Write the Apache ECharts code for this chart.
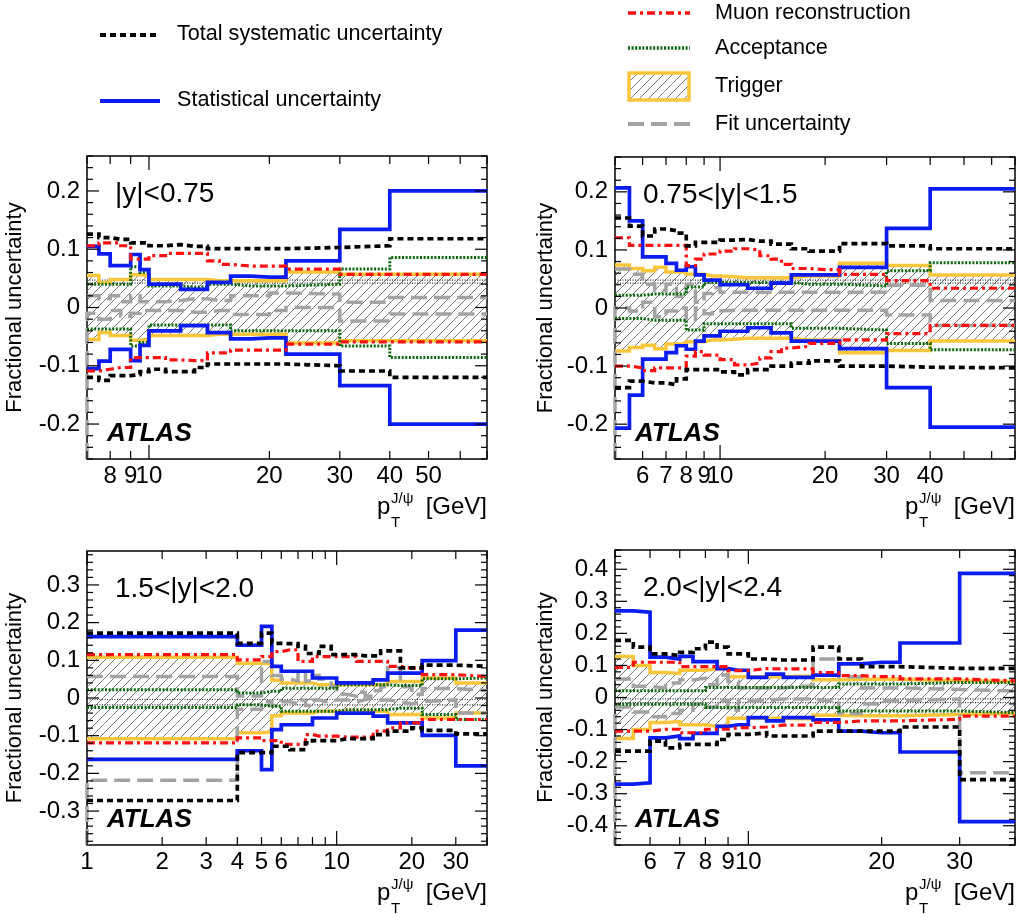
<!DOCTYPE html>
<html><head><meta charset="utf-8">
<script src="https://cdn.jsdelivr.net/npm/echarts@6/dist/echarts.min.js"></script>
<style>html,body{margin:0;padding:0;background:#fff}#c{width:1026px;height:914px}</style>
</head><body><div id="c"></div>
<script>
// ---------------- DATA ----------------
// Panel 1: |y|<0.75
const p1Label = '|y|<0.75';
const p1Edges = [7, 7.5, 8, 8.5, 9, 9.5, 10, 11, 12, 13, 14, 15, 16, 18, 20, 22, 30, 40, 70];
const p1Stat = [0.105, 0.092, 0.072, 0.072, 0.091, 0.065, 0.040, 0.040, 0.031, 0.031, 0.043, 0.043, 0.054, 0.052, 0.052, 0.080, 0.134, 0.200];
const p1SystUp = [0.126, 0.120, 0.117, 0.117, 0.111, 0.111, 0.106, 0.108, 0.105, 0.105, 0.101, 0.101, 0.101, 0.101, 0.101, 0.103, 0.106, 0.118];
const p1SystDn = [-0.120, -0.125, -0.117, -0.117, -0.115, -0.110, -0.106, -0.110, -0.110, -0.103, -0.097, -0.097, -0.097, -0.097, -0.097, -0.100, -0.109, -0.120];
const p1MuonUp = [0.106, 0.111, 0.111, 0.106, 0.083, 0.083, 0.089, 0.093, 0.093, 0.093, 0.080, 0.074, 0.071, 0.071, 0.071, 0.066, 0.057, 0.057];
const p1MuonDn = [-0.109, -0.106, -0.103, -0.103, -0.086, -0.086, -0.086, -0.090, -0.091, -0.091, -0.078, -0.078, -0.073, -0.073, -0.073, -0.063, -0.059, -0.059];
const p1Trig = [0.055, 0.043, 0.048, 0.048, 0.056, 0.054, 0.048, 0.048, 0.048, 0.048, 0.046, 0.046, 0.046, 0.046, 0.046, 0.061, 0.057, 0.057];
const p1AccUp = [0.040, 0.040, 0.040, 0.040, 0.070, 0.060, 0.037, 0.037, 0.035, 0.035, 0.040, 0.040, 0.037, 0.037, 0.037, 0.040, 0.066, 0.086];
const p1AccDn = [-0.037, -0.037, -0.037, -0.037, -0.066, -0.060, -0.030, -0.030, -0.030, -0.030, -0.030, -0.030, -0.040, -0.040, -0.040, -0.040, -0.066, -0.086];
const p1FitUp = [0.020, 0.015, 0.020, 0.010, 0.020, 0.010, 0.010, 0.012, 0.015, 0.015, 0.012, 0.012, 0.020, 0.020, 0.025, 0.023, 0.009, 0.017];
const p1FitDn = [-0.010, -0.020, -0.005, -0.015, -0.010, -0.005, -0.005, -0.005, -0.008, -0.008, -0.005, -0.005, -0.012, -0.012, -0.005, 0.000, -0.023, -0.011];
const p1Fine = [0.047, 0.042];
const p1XLabels = [8, 9, 10, 20, 30, 40, 50];
const p1XTicks = [7, 8, 9, 10, 20, 30, 40, 50, 60, 70];
const p1YLabels = [-0.2, -0.1, 0, 0.1, 0.2];

// Panel 2: 0.75<|y|<1.5
const p2Label = '0.75<|y|<1.5';
const p2Edges = [5, 5.5, 6, 6.5, 7, 7.5, 8, 8.5, 9, 9.5, 10, 11, 12, 13, 14, 15, 16, 18, 20, 22, 30, 40, 70];
const p2Stat = [0.207, 0.150, 0.088, 0.088, 0.077, 0.065, 0.071, 0.057, 0.048, 0.048, 0.040, 0.040, 0.034, 0.034, 0.043, 0.043, 0.057, 0.057, 0.057, 0.070, 0.137, 0.205];
const p2SystUp = [0.155, 0.141, 0.124, 0.136, 0.133, 0.129, 0.107, 0.113, 0.113, 0.113, 0.117, 0.118, 0.115, 0.115, 0.110, 0.110, 0.102, 0.098, 0.098, 0.111, 0.107, 0.102];
const p2SystDn = [-0.137, -0.126, -0.129, -0.129, -0.132, -0.122, -0.106, -0.106, -0.106, -0.106, -0.110, -0.115, -0.106, -0.106, -0.100, -0.100, -0.095, -0.091, -0.091, -0.100, -0.102, -0.103];
const p2MuonUp = [0.121, 0.108, 0.108, 0.108, 0.108, 0.108, 0.073, 0.084, 0.093, 0.093, 0.098, 0.102, 0.100, 0.090, 0.084, 0.075, 0.068, 0.066, 0.066, 0.058, 0.047, 0.034];
const p2MuonDn = [-0.100, -0.103, -0.108, -0.103, -0.103, -0.103, -0.083, -0.075, -0.081, -0.081, -0.089, -0.098, -0.095, -0.086, -0.075, -0.069, -0.066, -0.061, -0.061, -0.055, -0.044, -0.030];
const p2Trig = [0.074, 0.068, 0.064, 0.070, 0.062, 0.062, 0.058, 0.058, 0.055, 0.055, 0.054, 0.052, 0.052, 0.052, 0.052, 0.052, 0.055, 0.055, 0.055, 0.077, 0.073, 0.057];
const p2AccUp = [0.022, 0.022, 0.024, 0.024, 0.024, 0.024, 0.036, 0.036, 0.044, 0.044, 0.044, 0.044, 0.044, 0.044, 0.044, 0.044, 0.041, 0.041, 0.041, 0.038, 0.064, 0.078];
const p2AccDn = [-0.018, -0.018, -0.021, -0.021, -0.021, -0.021, -0.038, -0.038, -0.027, -0.027, -0.027, -0.027, -0.027, -0.027, -0.027, -0.027, -0.035, -0.035, -0.035, -0.038, -0.061, -0.072];
const p2FitUp = [0.067, 0.058, 0.041, 0.030, 0.041, 0.020, 0.041, 0.010, 0.025, 0.035, 0.027, 0.027, 0.027, 0.027, 0.027, 0.027, 0.027, 0.027, 0.027, 0.027, 0.039, 0.013];
const p2FitDn = [0.000, -0.005, 0.010, -0.015, -0.005, 0.000, -0.020, 0.000, -0.010, -0.005, -0.004, -0.004, -0.004, -0.004, -0.004, -0.004, -0.004, -0.004, -0.004, -0.004, -0.012, -0.030];
const p2Fine = [0.048, 0.043];
const p2XLabels = [6, 7, 8, 9, 10, 20, 30, 40];
const p2XTicks = [5, 6, 7, 8, 9, 10, 20, 30, 40, 50, 60, 70];
const p2YLabels = [-0.2, -0.1, 0, 0.1, 0.2];

// Panel 3: 1.5<|y|<2.0
const p3Label = '1.5<|y|<2.0';
const p3Edges = [1, 4, 5, 5.5, 6, 6.5, 7, 7.5, 8, 8.5, 9, 9.5, 10, 11, 12, 13, 14, 15, 16, 18, 20, 22, 30, 40];
const p3Stat = [0.163, 0.140, 0.190, 0.084, 0.071, 0.071, 0.071, 0.071, 0.053, 0.053, 0.053, 0.053, 0.040, 0.040, 0.040, 0.040, 0.048, 0.048, 0.066, 0.066, 0.066, 0.099, 0.180];
const p3SystUp = [0.172, 0.145, 0.172, 0.145, 0.144, 0.144, 0.137, 0.118, 0.118, 0.137, 0.137, 0.115, 0.115, 0.115, 0.112, 0.112, 0.112, 0.125, 0.125, 0.080, 0.080, 0.087, 0.084];
const p3SystDn = [-0.272, -0.145, -0.145, -0.128, -0.128, -0.137, -0.137, -0.119, -0.113, -0.113, -0.113, -0.113, -0.108, -0.108, -0.108, -0.108, -0.097, -0.097, -0.088, -0.088, -0.079, -0.086, -0.095];
const p3MuonUp = [0.115, 0.101, 0.110, 0.123, 0.128, 0.128, 0.097, 0.097, 0.110, 0.110, 0.110, 0.110, 0.110, 0.110, 0.097, 0.097, 0.097, 0.097, 0.084, 0.079, 0.079, 0.062, 0.057];
const p3MuonDn = [-0.119, -0.106, -0.113, -0.113, -0.123, -0.123, -0.123, -0.097, -0.101, -0.101, -0.101, -0.101, -0.104, -0.104, -0.104, -0.104, -0.088, -0.088, -0.079, -0.066, -0.066, -0.057, -0.057];
const p3Trig = [0.108, 0.092, 0.090, 0.047, 0.040, 0.040, 0.040, 0.040, 0.035, 0.035, 0.035, 0.035, 0.035, 0.035, 0.035, 0.035, 0.035, 0.035, 0.044, 0.044, 0.044, 0.053, 0.040];
const p3AccUp = [0.022, 0.013, 0.018, 0.018, 0.026, 0.026, 0.026, 0.026, 0.026, 0.026, 0.026, 0.026, 0.035, 0.035, 0.035, 0.035, 0.035, 0.035, 0.033, 0.033, 0.033, 0.051, 0.053];
const p3AccDn = [-0.025, -0.018, -0.022, -0.022, -0.035, -0.035, -0.035, -0.035, -0.035, -0.035, -0.035, -0.035, -0.031, -0.031, -0.031, -0.031, -0.031, -0.031, -0.027, -0.027, -0.027, -0.044, -0.057];
const p3FitUp = [0.057, 0.005, 0.097, 0.060, 0.050, 0.045, 0.070, 0.045, 0.060, 0.050, 0.045, 0.030, 0.010, 0.005, 0.015, 0.005, 0.020, 0.030, 0.080, 0.030, 0.010, 0.025, 0.020];
const p3FitDn = [-0.218, -0.030, -0.010, -0.020, -0.010, -0.015, -0.005, -0.020, -0.005, -0.010, -0.010, -0.005, -0.005, -0.010, -0.005, 0.000, -0.005, -0.005, -0.010, -0.015, -0.010, -0.005, -0.040];
const p3Fine = [-0.004, -0.018];
const p3XLabels = [1, 2, 3, 4, 5, 6, 10, 20, 30];
const p3XTicks = [1, 2, 3, 4, 5, 6, 7, 8, 9, 10, 20, 30, 40];
const p3YLabels = [-0.3, -0.2, -0.1, 0, 0.1, 0.2, 0.3];

// Panel 4: 2.0<|y|<2.4
const p4Label = '2.0<|y|<2.4';
const p4Edges = [5, 5.5, 6, 6.5, 7, 7.5, 8, 8.5, 9, 9.5, 10, 11, 12, 13, 14, 15, 16, 18, 20, 22, 30, 40];
const p4Stat = [0.270, 0.266, 0.126, 0.120, 0.128, 0.112, 0.112, 0.090, 0.085, 0.085, 0.063, 0.073, 0.063, 0.063, 0.070, 0.070, 0.105, 0.110, 0.110, 0.170, 0.387];
const p4SystUp = [0.178, 0.157, 0.136, 0.131, 0.141, 0.152, 0.173, 0.157, 0.136, 0.136, 0.120, 0.117, 0.117, 0.117, 0.157, 0.157, 0.120, 0.096, 0.096, 0.091, 0.091];
const p4SystDn = [-0.167, -0.167, -0.136, -0.157, -0.146, -0.146, -0.146, -0.131, -0.115, -0.115, -0.110, -0.120, -0.120, -0.120, -0.105, -0.105, -0.105, -0.105, -0.105, -0.092, -0.256];
const p4MuonUp = [0.094, 0.110, 0.110, 0.110, 0.096, 0.096, 0.096, 0.096, 0.084, 0.084, 0.090, 0.089, 0.089, 0.089, 0.078, 0.078, 0.068, 0.065, 0.065, 0.058, 0.052];
const p4MuonDn = [-0.105, -0.105, -0.099, -0.099, -0.110, -0.110, -0.099, -0.099, -0.094, -0.094, -0.092, -0.086, -0.086, -0.086, -0.078, -0.078, -0.073, -0.073, -0.073, -0.068, -0.058];
const p4Trig = [0.128, 0.100, 0.078, 0.075, 0.085, 0.085, 0.090, 0.090, 0.065, 0.065, 0.065, 0.065, 0.066, 0.066, 0.055, 0.055, 0.057, 0.057, 0.057, 0.053, 0.050];
const p4AccUp = [0.021, 0.021, 0.021, 0.021, 0.021, 0.021, 0.031, 0.031, 0.031, 0.031, 0.031, 0.031, 0.031, 0.031, 0.031, 0.031, 0.042, 0.042, 0.042, 0.047, 0.047];
const p4AccDn = [-0.021, -0.021, -0.021, -0.021, -0.021, -0.021, -0.031, -0.031, -0.031, -0.031, -0.031, -0.031, -0.031, -0.031, -0.031, -0.031, -0.042, -0.042, -0.042, -0.042, -0.047];
const p4FitUp = [0.058, 0.035, 0.030, 0.045, 0.055, 0.060, 0.040, 0.070, 0.050, 0.030, 0.030, 0.030, 0.035, 0.035, 0.120, 0.120, 0.065, 0.030, 0.030, 0.025, 0.020];
const p4FitDn = [-0.030, -0.045, -0.060, -0.050, -0.040, -0.020, -0.030, -0.010, -0.040, -0.010, -0.010, -0.005, -0.005, -0.005, -0.010, -0.010, -0.050, -0.020, -0.010, -0.005, -0.235];
const p4Fine = [-0.004, -0.016];
const p4XLabels = [6, 7, 8, 9, 10, 20, 30];
const p4XTicks = [5, 6, 7, 8, 9, 10, 20, 30, 40];
const p4YLabels = [-0.4, -0.3, -0.2, -0.1, 0, 0.1, 0.2, 0.3, 0.4];

const legendNames = ['Total systematic uncertainty', 'Statistical uncertainty', 'Muon reconstruction', 'Acceptance', 'Trigger', 'Fit uncertainty'];
const yTitle = 'Fractional uncertainty';

// ---------------- STYLE / LAYOUT ----------------
const FONT = '"Liberation Sans", Arial, Helvetica, sans-serif';
const C_SYST = '#000000', C_STAT = '#0b1cf0', C_MUON = '#ff1010', C_ACC = '#0a6a0a', C_TRIG = '#fbc63b', C_FIT = '#a3a3a3', C_FINE = '#333333';
const D_SYST = [6, 4], D_MUON = [8, 4, 3, 4], D_ACC = [2, 1.6], D_FIT = [16, 7], D_FINE = [1, 1.5];

const hatch = document.createElement('canvas');
hatch.width = 9; hatch.height = 9;
(function () {
  const g = hatch.getContext('2d');
  g.strokeStyle = '#555'; g.lineWidth = 0.8;
  g.beginPath();
  g.moveTo(0, 9); g.lineTo(9, 0);
  g.moveTo(-2, 2); g.lineTo(2, -2);
  g.moveTo(7, 11); g.lineTo(11, 7);
  g.stroke();
})();
const hatchFill = { image: hatch, repeat: 'repeat' };

const panels = [
  { label: p1Label, edges: p1Edges, stat: p1Stat, systUp: p1SystUp, systDn: p1SystDn, muonUp: p1MuonUp, muonDn: p1MuonDn, trig: p1Trig, accUp: p1AccUp, accDn: p1AccDn, fitUp: p1FitUp, fitDn: p1FitDn, fine: p1Fine, xLabels: p1XLabels, xTicks: p1XTicks, yLabels: p1YLabels,
    grid: { left: 87, top: 156, width: 400, height: 303 }, xMin: 7, xMax: 70, yMax: 0.26, titleX: 15 },
  { label: p2Label, edges: p2Edges, stat: p2Stat, systUp: p2SystUp, systDn: p2SystDn, muonUp: p2MuonUp, muonDn: p2MuonDn, trig: p2Trig, accUp: p2AccUp, accDn: p2AccDn, fitUp: p2FitUp, fitDn: p2FitDn, fine: p2Fine, xLabels: p2XLabels, xTicks: p2XTicks, yLabels: p2YLabels,
    grid: { left: 615, top: 157, width: 400, height: 302 }, xMin: 5, xMax: 70, yMax: 0.26, titleX: 546 },
  { label: p3Label, edges: p3Edges, stat: p3Stat, systUp: p3SystUp, systDn: p3SystDn, muonUp: p3MuonUp, muonDn: p3MuonDn, trig: p3Trig, accUp: p3AccUp, accDn: p3AccDn, fitUp: p3FitUp, fitDn: p3FitDn, fine: p3Fine, xLabels: p3XLabels, xTicks: p3XTicks, yLabels: p3YLabels,
    grid: { left: 87, top: 551, width: 400, height: 294 }, xMin: 1, xMax: 40, yMax: 0.39, titleX: 15 },
  { label: p4Label, edges: p4Edges, stat: p4Stat, systUp: p4SystUp, systDn: p4SystDn, muonUp: p4MuonUp, muonDn: p4MuonDn, trig: p4Trig, accUp: p4AccUp, accDn: p4AccDn, fitUp: p4FitUp, fitDn: p4FitDn, fine: p4Fine, xLabels: p4XLabels, xTicks: p4XTicks, yLabels: p4YLabels,
    grid: { left: 615, top: 550, width: 400, height: 295 }, xMin: 5, xMax: 40, yMax: 0.46, titleX: 546 }
];

function stepData(edges, vals) {
  const d = [];
  for (let i = 0; i < vals.length; i++) d.push([edges[i], vals[i]]);
  d.push([edges[edges.length - 1], vals[vals.length - 1]]);
  return d;
}
function neg(a) { return a.map(v => -v); }

function lineS(i, data, color, width, type, z) {
  return { type: 'line', xAxisIndex: i, yAxisIndex: i, data: data, step: 'end', symbol: 'none', showSymbol: false,
    silent: true, animation: false, clip: true, z: z,
    lineStyle: { color: color, width: width, type: type, cap: 'butt', join: 'miter' } };
}

const grids = [], xAxes = [], yAxes = [], series = [], graphics = [];

panels.forEach((P, i) => {
  grids.push(Object.assign({ show: true, borderColor: '#000', borderWidth: 1.5, backgroundColor: 'rgba(0,0,0,0)' }, P.grid));
  xAxes.push({ type: 'log', logBase: 10, gridIndex: i, min: P.xMin, max: P.xMax,
    axisLine: { show: false }, axisTick: { show: false }, splitLine: { show: false }, minorTick: { show: false },
    axisLabel: { customValues: P.xLabels, margin: 5, fontSize: 24, fontFamily: FONT, color: '#000',
      formatter: v => String(Math.round(v)) } });
  yAxes.push({ type: 'value', gridIndex: i, min: -P.yMax, max: P.yMax,
    axisLine: { show: false }, axisTick: { show: false }, splitLine: { show: false },
    axisLabel: { customValues: P.yLabels, margin: 7, fontSize: 24, fontFamily: FONT, color: '#000',
      formatter: v => Math.abs(v) < 1e-9 ? '0' : Number(v).toFixed(1) } });

  // Trigger hatched band
  const bins = P.trig.map((t, k) => [P.edges[k], P.edges[k + 1], t]);
  series.push({ type: 'custom', xAxisIndex: i, yAxisIndex: i, silent: true, animation: false, z: 1, clip: true,
    data: bins, encode: { x: [0, 1], y: 2 },
    renderItem: (params, api) => {
      const a = api.coord([api.value(0), api.value(2)]);
      const b = api.coord([api.value(1), -api.value(2)]);
      return { type: 'rect', shape: { x: a[0], y: a[1], width: b[0] - a[0], height: b[1] - a[1] },
        style: { fill: hatchFill, stroke: null } };
    } });

  // fine dotted band lines
  P.fine.forEach(v => series.push(lineS(i, [[P.xMin, v], [P.xMax, v]], C_FINE, 1.2, D_FINE, 2)));

  // fit lower curve drops down the left edge as in the original histogram drawing
  const fitDnData = [[P.edges[0], -P.yMax]].concat(stepData(P.edges, P.fitDn));

  series.push(lineS(i, stepData(P.edges, P.trig), C_TRIG, 3.5, 'solid', 3));
  series.push(lineS(i, stepData(P.edges, neg(P.trig)), C_TRIG, 3.5, 'solid', 3));
  series.push(lineS(i, stepData(P.edges, P.fitUp), C_FIT, 3.5, D_FIT, 4));
  series.push(lineS(i, fitDnData, C_FIT, 3.5, D_FIT, 4));
  series.push(lineS(i, stepData(P.edges, P.accUp), C_ACC, 3, D_ACC, 5));
  series.push(lineS(i, stepData(P.edges, P.accDn), C_ACC, 3, D_ACC, 5));
  series.push(lineS(i, stepData(P.edges, P.stat), C_STAT, 3.7, 'solid', 6));
  series.push(lineS(i, stepData(P.edges, neg(P.stat)), C_STAT, 3.7, 'solid', 6));
  series.push(lineS(i, stepData(P.edges, P.muonUp), C_MUON, 3.2, D_MUON, 7));
  series.push(lineS(i, stepData(P.edges, P.muonDn), C_MUON, 3.2, D_MUON, 7));
  series.push(lineS(i, stepData(P.edges, P.systUp), C_SYST, 3.7, D_SYST, 8));
  series.push(lineS(i, stepData(P.edges, P.systDn), C_SYST, 3.7, D_SYST, 8));

  // axis ticks (ROOT style, inside, all four sides)
  series.push({ type: 'custom', xAxisIndex: i, yAxisIndex: i, silent: true, animation: false, z: 20, clip: false,
    data: [[P.xMin, 0]], encode: { x: 0, y: 1 },
    renderItem: (params, api) => {
      const tl = api.coord([P.xMin, P.yMax]);
      const br = api.coord([P.xMax, -P.yMax]);
      const ch = [];
      const L = (x1, y1, x2, y2) => ch.push({ type: 'line', shape: { x1, y1, x2, y2 }, style: { stroke: '#000', lineWidth: 1.2 } });
      P.xTicks.forEach(t => {
        const x = api.coord([t, 0])[0];
        const lg = Math.log10(t);
        const len = Math.abs(lg - Math.round(lg)) < 1e-9 ? 14 : 8;
        L(x, br[1], x, br[1] - len);
        L(x, tl[1], x, tl[1] + len);
      });
      const kMin = Math.ceil(-P.yMax / 0.02 - 1e-9), kMax = Math.floor(P.yMax / 0.02 + 1e-9);
      for (let k = kMin; k <= kMax; k++) {
        const y = api.coord([P.xMin, k * 0.02])[1];
        const len = (k % 5 === 0) ? 12 : 6;
        L(tl[0], y, tl[0] + len, y);
        L(br[0], y, br[0] - len, y);
      }
      return { type: 'group', children: ch };
    } });

  // texts in panel
  const g = P.grid, R = g.left + g.width, B = g.top + g.height;
  graphics.push({ type: 'text', x: g.left + 28, y: g.top + 38, silent: true,
    style: { text: P.label, font: '28px ' + FONT, fill: '#000', align: 'left', verticalAlign: 'middle', textAlign: 'left', textVerticalAlign: 'middle' } });
  graphics.push({ type: 'text', x: g.left + 20, y: B - 25, silent: true,
    style: { text: 'ATLAS', font: 'italic bold 26px ' + FONT, fill: '#000', align: 'left', verticalAlign: 'middle', textAlign: 'left', textVerticalAlign: 'middle' } });
  graphics.push({ type: 'text', x: P.titleX, y: g.top + g.height / 2, rotation: Math.PI / 2, silent: true,
    style: { text: yTitle, font: '22px ' + FONT, fill: '#000', align: 'center', verticalAlign: 'middle', textAlign: 'center', textVerticalAlign: 'middle' } });
  graphics.push({ type: 'text', x: R, y: B + 48, silent: true,
    style: { text: '[GeV]', font: '24px ' + FONT, fill: '#000', align: 'right', verticalAlign: 'middle', textAlign: 'right', textVerticalAlign: 'middle' } });
  graphics.push({ type: 'text', x: R - 110, y: B + 48, silent: true,
    style: { text: 'p', font: '24px ' + FONT, fill: '#000', align: 'left', verticalAlign: 'middle', textAlign: 'left', textVerticalAlign: 'middle' } });
  graphics.push({ type: 'text', x: R - 96, y: B + 40, silent: true,
    style: { text: 'J/\u03c8', font: '15px ' + FONT, fill: '#000', align: 'left', verticalAlign: 'middle', textAlign: 'left', textVerticalAlign: 'middle' } });
  graphics.push({ type: 'text', x: R - 96, y: B + 64, silent: true,
    style: { text: 'T', font: '15px ' + FONT, fill: '#000', align: 'left', verticalAlign: 'middle', textAlign: 'left', textVerticalAlign: 'middle' } });
});

// legend
function legText(x, y, t) {
  return { type: 'text', x: x, y: y, silent: true,
    style: { text: t, font: '21.6px ' + FONT, fill: '#000', align: 'left', verticalAlign: 'middle', textAlign: 'left', textVerticalAlign: 'middle' } };
}
function legLine(x1, x2, y, color, w, dash) {
  return { type: 'line', silent: true, shape: { x1: x1, y1: y, x2: x2, y2: y },
    style: { stroke: color, lineWidth: w, lineDash: dash } };
}
graphics.push(legLine(100, 160, 35, C_SYST, 4, D_SYST));
graphics.push(legText(177, 34, legendNames[0]));
graphics.push(legLine(100, 160, 101, C_STAT, 4, null));
graphics.push(legText(177, 100, legendNames[1]));
graphics.push(legLine(628, 690, 13, C_MUON, 3.5, D_MUON));
graphics.push(legText(715, 13, legendNames[2]));
graphics.push(legLine(628, 690, 48, C_ACC, 3.5, D_ACC));
graphics.push(legText(715, 48, legendNames[3]));
graphics.push({ type: 'rect', silent: true, shape: { x: 629, y: 73, width: 60, height: 27 },
  style: { fill: hatchFill, stroke: C_TRIG, lineWidth: 3.5 } });
graphics.push(legText(715, 86, legendNames[4]));
graphics.push(legLine(628, 690, 124, C_FIT, 4, D_FIT));
graphics.push(legText(715, 124, legendNames[5]));

const chart = echarts.init(document.getElementById('c'), null, { renderer: 'canvas' });
chart.setOption({
  animation: false,
  backgroundColor: '#fff',
  grid: grids,
  xAxis: xAxes,
  yAxis: yAxes,
  series: series,
  graphic: { elements: graphics }
});
</script>
</body></html>
